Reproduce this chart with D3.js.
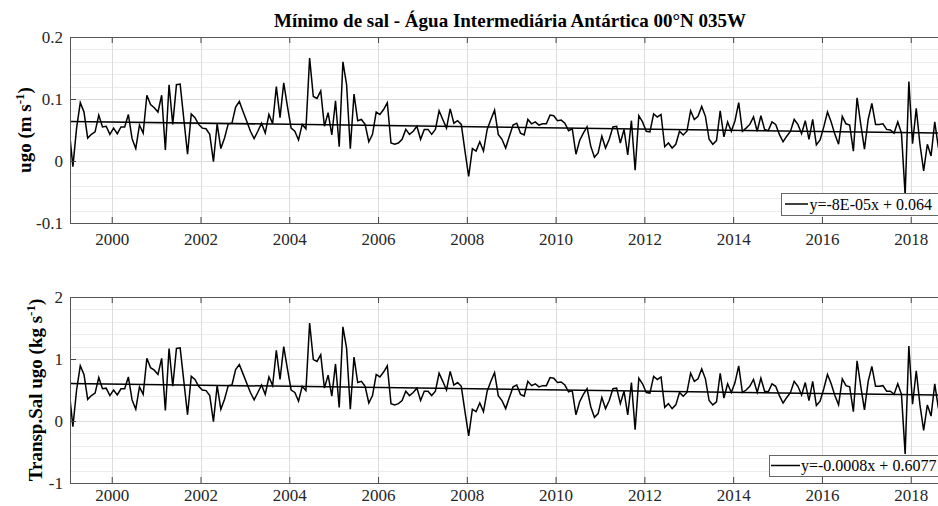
<!DOCTYPE html>
<html><head><meta charset="utf-8">
<script src="https://cdn.jsdelivr.net/npm/d3@7"></script>
<style>body{margin:0;background:#fff}svg{display:block}</style>
</head><body>
<svg id="c" width="938" height="506"></svg>
<script>
// ---------------- data (monthly, starting Jan 1999) ----------------
const startYear = 1999;
const ugo = [
 0.052,-0.009,0.053,0.094,0.079,0.037,0.043,0.047,0.074,0.055,0.056,0.043,
 0.053,0.044,0.055,0.055,0.075,0.036,0.020,0.058,0.045,0.106,0.091,0.086,
 0.079,0.106,0.018,0.123,0.059,0.123,0.124,0.067,0.011,0.076,0.070,0.059,
 0.053,0.052,0.043,-0.001,0.060,0.020,0.037,0.060,0.061,0.087,0.096,0.080,
 0.064,0.048,0.036,0.048,0.061,0.045,0.075,0.060,0.120,0.070,0.126,0.088,
 0.053,0.048,0.034,0.059,0.052,0.166,0.104,0.101,0.113,0.056,0.078,0.042,
 0.097,0.023,0.160,0.123,0.020,0.108,0.065,0.067,0.059,0.031,0.043,0.079,
 0.075,0.083,0.094,0.029,0.027,0.029,0.035,0.051,0.043,0.048,0.056,0.035,
 0.051,0.051,0.043,0.051,0.081,0.067,0.053,0.084,0.061,0.065,0.059,0.016,
 -0.025,0.020,0.016,0.031,0.016,0.051,0.067,0.082,0.043,0.035,0.021,0.040,
 0.058,0.061,0.045,0.042,0.067,0.060,0.063,0.058,0.060,0.060,0.074,0.073,
 0.065,0.066,0.061,0.049,0.052,0.011,0.033,0.045,0.055,0.024,0.006,0.013,
 0.040,0.021,0.035,0.055,0.056,0.029,0.051,0.010,0.065,-0.015,0.073,0.063,
 0.048,0.047,0.076,0.071,0.075,0.023,0.029,0.021,0.027,0.048,0.042,0.048,
 0.081,0.067,0.072,0.088,0.072,0.035,0.027,0.033,0.081,0.039,0.063,0.048,
 0.065,0.094,0.048,0.053,0.059,0.071,0.048,0.073,0.051,0.049,0.063,0.059,
 0.043,0.031,0.040,0.048,0.067,0.059,0.044,0.065,0.035,0.067,0.026,0.034,
 0.055,0.079,0.063,0.043,0.027,0.072,0.060,0.058,0.016,0.102,0.059,0.019,
 0.067,0.093,0.059,0.059,0.060,0.051,0.050,0.045,0.063,0.045,-0.055,0.128,
 0.028,0.085,0.027,-0.016,0.027,0.008,0.063,0.021
];
const transpSal = [
 0.49,-0.09,0.50,0.89,0.75,0.35,0.41,0.45,0.70,0.52,0.53,0.41,
 0.50,0.42,0.52,0.52,0.71,0.34,0.19,0.55,0.43,1.01,0.86,0.82,
 0.75,1.01,0.17,1.17,0.56,1.17,1.18,0.64,0.10,0.72,0.67,0.56,
 0.50,0.49,0.41,-0.01,0.57,0.19,0.35,0.57,0.58,0.83,0.91,0.76,
 0.61,0.46,0.34,0.46,0.58,0.43,0.71,0.57,1.14,0.67,1.20,0.84,
 0.50,0.46,0.32,0.56,0.49,1.58,0.99,0.96,1.07,0.53,0.74,0.40,
 0.92,0.22,1.52,1.17,0.19,1.03,0.62,0.64,0.56,0.29,0.41,0.75,
 0.71,0.79,0.89,0.28,0.26,0.28,0.33,0.48,0.41,0.46,0.53,0.33,
 0.48,0.48,0.41,0.48,0.77,0.64,0.50,0.80,0.58,0.62,0.56,0.15,
 -0.24,0.19,0.15,0.29,0.15,0.48,0.64,0.78,0.41,0.33,0.20,0.38,
 0.55,0.58,0.43,0.40,0.64,0.57,0.60,0.55,0.57,0.57,0.70,0.69,
 0.62,0.63,0.58,0.47,0.49,0.10,0.31,0.43,0.52,0.23,0.06,0.12,
 0.38,0.20,0.33,0.52,0.53,0.28,0.48,0.10,0.62,-0.14,0.69,0.60,
 0.46,0.45,0.72,0.67,0.71,0.22,0.28,0.20,0.26,0.46,0.40,0.46,
 0.77,0.64,0.68,0.84,0.68,0.33,0.26,0.31,0.77,0.37,0.60,0.46,
 0.62,0.89,0.46,0.50,0.56,0.67,0.46,0.69,0.48,0.47,0.60,0.56,
 0.41,0.29,0.38,0.46,0.64,0.56,0.42,0.62,0.33,0.64,0.25,0.32,
 0.52,0.75,0.60,0.41,0.26,0.68,0.57,0.55,0.15,0.97,0.56,0.18,
 0.64,0.88,0.56,0.56,0.57,0.48,0.48,0.43,0.60,0.43,-0.53,1.21,
 0.27,0.81,0.26,-0.15,0.26,0.08,0.60,0.20
];
const xTickYears = [2000,2002,2004,2006,2008,2010,2012,2014,2016,2018];
const ugoTicks = [-0.1, 0, 0.1, 0.2];
const transpTicks = [-1, 0, 1, 2];
const trendSlopes = [-8e-5, -0.0008];
const trendIntercepts = [0.064, 0.6077];
const legendLabels = ["y=-8E-05x + 0.064", "y=-0.0008x + 0.6077"];
const titleText = "Mínimo de sal - Água Intermediária Antártica 00°N 035W";

// ---------------- drawing ----------------
const svg = d3.select('#c');
const serif = "'Liberation Serif','Times New Roman',Times,serif";
const x = d3.scaleLinear().domain([1999.06, 2018.705]).range([70, 942]);
const tOf = i => startYear + (i + 0.5) / 12;

svg.append('text').attr('x', 510).attr('y', 27).attr('text-anchor', 'middle')
  .attr('font-family', serif).attr('font-weight', 'bold').attr('font-size', 19)
  .attr('fill', '#000').text(titleText);

const panels = [
  {values: ugo, ticks: ugoTicks, top: 37, bottom: 223, k: 0, xPad: 10,
   labelMain: 'ugo (m s', labelX: 31,
   legend: {x: 781, y: 193, w: 160, h: 22, lx1: 785, lx2: 808, tx: 809.5, ty: 209.5}},
  {values: transpSal, ticks: transpTicks, top: 297, bottom: 483, k: 1, xPad: 6,
   labelMain: 'Transp.Sal ugo (kg s', labelX: 42,
   legend: {x: 769, y: 455, w: 172, h: 21, lx1: 771, lx2: 800, tx: 801, ty: 471}}
];

const defs = svg.append('defs');

panels.forEach(p => {
  const y = d3.scaleLinear().domain(d3.extent(p.ticks)).range([p.bottom, p.top]);
  const g = svg.append('g');
  const left = 70, right = 942;

  defs.append('clipPath').attr('id', 'clip' + p.k).append('rect')
    .attr('x', left).attr('y', p.top).attr('width', right - left).attr('height', p.bottom - p.top);

  const minor = y.ticks(15).filter(v => !p.ticks.some(t => Math.abs(t - v) < 1e-9));
  g.selectAll('.mg').data(minor).enter().append('line')
    .attr('x1', left).attr('x2', right)
    .attr('y1', d => Math.round(y(d)) + 0.5).attr('y2', d => Math.round(y(d)) + 0.5)
    .attr('stroke', '#ececec').attr('stroke-width', 1);
  g.selectAll('.hg').data(p.ticks).enter().append('line')
    .attr('x1', left).attr('x2', right)
    .attr('y1', d => Math.round(y(d)) + 0.5).attr('y2', d => Math.round(y(d)) + 0.5)
    .attr('stroke', '#dcdcdc').attr('stroke-width', 1);
  g.selectAll('.vg').data(xTickYears).enter().append('line')
    .attr('y1', p.top).attr('y2', p.bottom)
    .attr('x1', d => Math.round(x(d)) + 0.5).attr('x2', d => Math.round(x(d)) + 0.5)
    .attr('stroke', '#dcdcdc').attr('stroke-width', 1);

  const line = d3.line().x((d, i) => x(tOf(i))).y(d => y(d));
  g.append('path').datum(p.values).attr('clip-path', `url(#clip${p.k})`)
    .attr('d', line).attr('fill', 'none').attr('stroke', '#000')
    .attr('stroke-width', 1.5).attr('stroke-linejoin', 'miter');

  const n = p.values.length;
  const trendPts = [0, n - 1].map(i => [x(tOf(i)), y(trendSlopes[p.k] * (i + 1) + trendIntercepts[p.k])]);
  g.append('path').attr('clip-path', `url(#clip${p.k})`)
    .attr('d', d3.line()(trendPts)).attr('stroke', '#000').attr('stroke-width', 1.5).attr('fill', 'none');

  const ax = d3.axisBottom(x).tickValues(xTickYears).tickSize(-6).tickSizeOuter(0).tickPadding(p.xPad).tickFormat(String);
  const gx = g.append('g').attr('transform', `translate(0,${p.bottom})`).call(ax);
  const axTop = d3.axisTop(x).tickValues(xTickYears).tickSize(-6).tickSizeOuter(0).tickFormat('');
  const gxt = g.append('g').attr('transform', `translate(0,${p.top})`).call(axTop);
  const ay = d3.axisLeft(y).tickValues(p.ticks).tickSize(-6).tickSizeOuter(0).tickPadding(7).tickFormat(String);
  const gy = g.append('g').attr('transform', `translate(${left},0)`).call(ay);
  [gx, gxt, gy].forEach(a => {
    a.select('.domain').remove();
    a.selectAll('line').attr('stroke', '#444');
    a.selectAll('text').attr('font-family', serif).attr('font-size', 17).attr('fill', '#262626');
  });
  gy.selectAll('text').attr('dy', '0.34em');

  g.append('rect').attr('x', left + 0.5).attr('y', p.top + 0.5)
    .attr('width', right - left).attr('height', p.bottom - p.top)
    .attr('fill', 'none').attr('stroke', '#555').attr('stroke-width', 1);

  const yl = g.append('text')
    .attr('transform', `translate(${p.labelX},${(p.top + p.bottom) / 2}) rotate(-90)`)
    .attr('text-anchor', 'middle').attr('font-family', serif).attr('font-weight', 'bold')
    .attr('font-size', 19).attr('fill', '#000');
  yl.append('tspan').text(p.labelMain);
  yl.append('tspan').attr('font-size', 13).attr('dy', -7).text('-1');
  yl.append('tspan').attr('dy', 7).text(')');

  const L = p.legend;
  g.append('rect').attr('x', L.x + 0.5).attr('y', L.y + 0.5).attr('width', L.w).attr('height', L.h)
    .attr('fill', '#fff').attr('stroke', '#666').attr('stroke-width', 1);
  const ly = L.y + L.h / 2;
  g.append('line').attr('x1', L.lx1).attr('x2', L.lx2).attr('y1', ly).attr('y2', ly)
    .attr('stroke', '#000').attr('stroke-width', 1.5);
  g.append('text').attr('x', L.tx).attr('y', L.ty).attr('font-family', serif)
    .attr('font-size', 16).attr('fill', '#000').text(legendLabels[p.k]);
});
</script>
</body></html>
